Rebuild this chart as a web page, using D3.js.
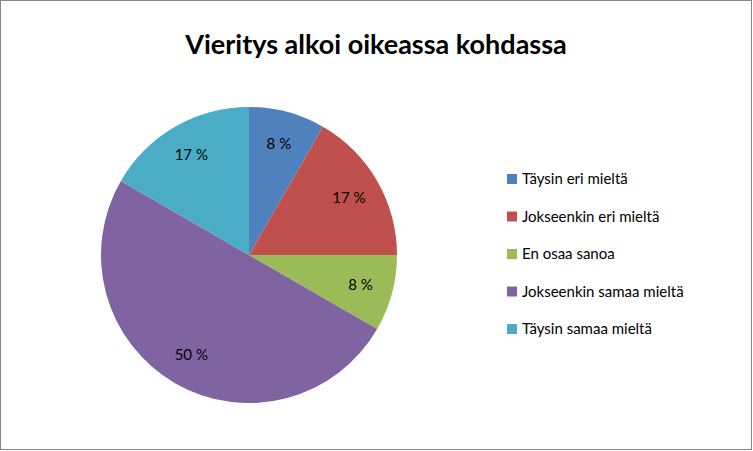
<!DOCTYPE html>
<html><head><meta charset="utf-8">
<script src="https://cdn.jsdelivr.net/npm/d3@7"></script>
<style>body{margin:0;background:#fff}</style>
</head><body>
<svg id="c" width="753" height="451"></svg>
<script>
const categories = ["Täysin eri mieltä", "Jokseenkin eri mieltä", "En osaa sanoa", "Jokseenkin samaa mieltä", "Täysin samaa mieltä"];
const values = [1, 2, 1, 6, 2];
const labels = ["8 %", "17 %", "8 %", "50 %", "17 %"];
const colors = ["#4F81BD", "#C0504D", "#9BBB59", "#8064A2", "#4BACC6"];

const svg = d3.select("#c");
const font = "Lato, 'Open Sans', sans-serif";
svg.append("rect").attr("x", 0.5).attr("y", 0.5).attr("width", 751).attr("height", 449)
    .attr("fill", "#fff").attr("stroke", "#868686");

svg.append("text").attr("x", 376).attr("y", 54).attr("text-anchor", "middle")
    .attr("font-family", font).attr("font-weight", "bold").attr("font-size", 27)
    .text("Vieritys alkoi oikeassa kohdassa");

const r = 148;
const g = svg.append("g").attr("transform", "translate(249,255)");
const pie = d3.pie().sort(null).value(d => d);
const arc = d3.arc().innerRadius(0).outerRadius(r);
const labelArc = d3.arc().innerRadius(r * 0.78).outerRadius(r * 0.78);
const arcs = pie(values);

g.selectAll("path").data(arcs).enter().append("path")
    .attr("d", arc).attr("fill", (d, i) => colors[i]);

g.selectAll("text").data(arcs).enter().append("text")
    .attr("transform", d => `translate(${labelArc.centroid(d)})`)
    .attr("text-anchor", "middle").attr("dy", "0.35em")
    .attr("font-family", font).attr("font-size", 15)
    .text((d, i) => labels[i]);

const leg = svg.append("g").attr("transform", "translate(507,174)");
const item = leg.selectAll("g").data(categories).enter().append("g")
    .attr("transform", (d, i) => `translate(0,${i * 37.5})`);
item.append("rect").attr("width", 10).attr("height", 10).attr("fill", (d, i) => colors[i]);
item.append("text").attr("x", 15).attr("y", 5).attr("dy", "0.35em")
    .attr("font-family", font).attr("font-size", 15).text(d => d);
</script>
</body></html>
